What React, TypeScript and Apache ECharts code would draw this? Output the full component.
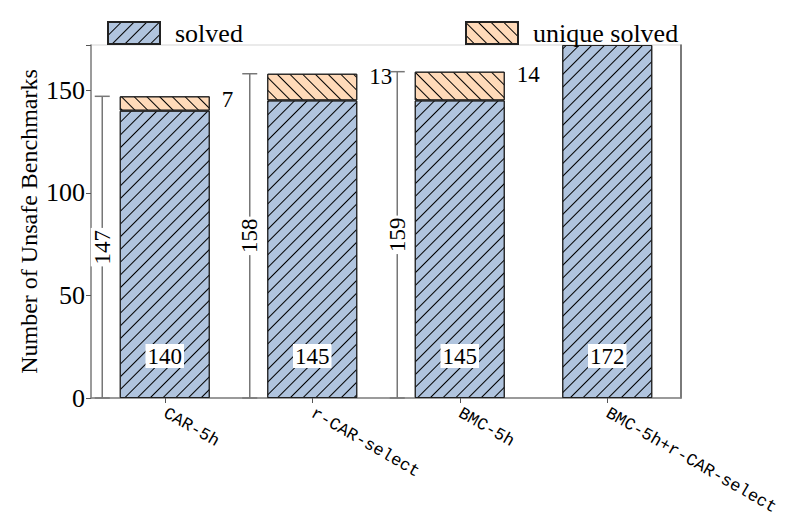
import React, { useEffect, useRef } from "react";
import * as echarts from "echarts";

const categories = ["CAR-5h", "r-CAR-select", "BMC-5h", "BMC-5h+r-CAR-select"];
const solved = [140, 145, 145, 172];
const uniqueSolved = [7, 13, 14, 0];
const bracketCount = 3;
const yTicks = [0, 50, 100, 150];
const yMax = 172;

const SERIF = "'Liberation Serif', 'Times New Roman', serif";
const MONO = "'Liberation Mono', 'Courier New', monospace";

export default function App() {
  const ref = useRef<HTMLDivElement>(null);
  useEffect(() => {
    if (!ref.current) return;
    const chart = echarts.init(ref.current, undefined, { renderer: "svg" });
    const totals = solved.map((v, i) => v + uniqueSolved[i]);
    const bracketData = totals.slice(0, bracketCount).map((t, i) => [i, t]);
    const solvedDecal = {
      symbol: "rect",
      symbolSize: 1,
      color: "#000",
      dashArrayX: [1, 0],
      dashArrayY: [1, 7.5],
      rotation: -Math.PI / 4,
    };
    const uniqueDecal = { ...solvedDecal, rotation: Math.PI / 4 };
    const legendText = { fontFamily: SERIF, fontSize: 26, color: "#000", padding: [0, 0, 0, 10] };
    const option: any = {
      animation: false,
      legend: [
        {
          data: ["solved"],
          left: 102,
          top: 15,
          icon: "rect",
          itemWidth: 52,
          itemHeight: 22,
          textStyle: legendText,
        },
        {
          data: ["unique solved"],
          left: 460,
          top: 15,
          icon: "rect",
          itemWidth: 52,
          itemHeight: 22,
          textStyle: legendText,
        },
      ],
      grid: {
        left: 91,
        right: 113,
        top: 45,
        bottom: 121,
        show: true,
        borderColor: "#e4e4e4",
        borderWidth: 1.5,
        containLabel: false,
        outerBoundsMode: "none",
      },
      xAxis: {
        type: "category",
        data: categories,
        boundaryGap: true,
        axisLine: { show: true, lineStyle: { color: "#808080", width: 1.5 } },
        axisTick: { show: true, alignWithLabel: true, length: 5, lineStyle: { color: "#555" } },
        axisLabel: { rotate: -30, fontFamily: MONO, fontSize: 17, color: "#000", margin: 14 },
        splitLine: { show: false },
      },
      yAxis: [
        {
          type: "value",
          min: 0,
          max: yMax,
          interval: 50,
          name: "Number of Unsafe Benchmarks",
          nameLocation: "middle",
          nameGap: 50,
          nameMoveOverlap: false,
          nameTextStyle: { fontFamily: SERIF, fontSize: 24, color: "#000" },
          axisLine: { show: true, lineStyle: { color: "#808080", width: 1.5 } },
          axisTick: { show: true, length: 5, lineStyle: { color: "#555" } },
          axisLabel: {
            fontFamily: SERIF,
            fontSize: 26,
            color: "#000",
            margin: 6,
            formatter: (v: number) => (yTicks.includes(v) ? String(v) : ""),
          },
          splitLine: { show: false },
        },
        {
          type: "value",
          position: "right",
          min: 0,
          max: yMax,
          interval: 50,
          axisLine: { show: true, lineStyle: { color: "#555", width: 1.5 } },
          axisTick: { show: false },
          axisLabel: { show: false },
          splitLine: { show: false },
        },
      ],
      series: [
        {
          name: "solved",
          type: "bar",
          stack: "all",
          barWidth: 90,
          data: solved,
          itemStyle: { color: "#b0c4de", borderColor: "#222", borderWidth: 1, decal: solvedDecal },
          label: {
            show: true,
            position: "insideBottom",
            distance: 30,
            fontFamily: SERIF,
            fontSize: 23,
            color: "#000",
            backgroundColor: "#fff",
            padding: [1, 2, 0, 2],
          },
        },
        {
          name: "unique solved",
          type: "bar",
          stack: "all",
          barWidth: 90,
          data: uniqueSolved.map((v) => (v === 0 ? null : v)),
          itemStyle: { color: "#ffdab9", borderColor: "#222", borderWidth: 1, decal: uniqueDecal },
          label: {
            show: true,
            position: ["100%", 0],
            offset: [12, 3],
            align: "left",
            verticalAlign: "middle",
            fontFamily: SERIF,
            fontSize: 23,
            color: "#000",
          },
        },
        {
          type: "custom",
          name: "brackets",
          data: bracketData,
          clip: false,
          z: 5,
          renderItem: (params: any, api: any) => {
            const idx = api.value(0);
            const total = api.value(1);
            const base = api.coord([idx, 0]);
            const top = api.coord([idx, total]);
            const x = base[0] - 62.5;
            const ls = { stroke: "#777", lineWidth: 1.5 };
            return {
              type: "group",
              children: [
                { type: "line", shape: { x1: x, y1: base[1], x2: x, y2: top[1] }, style: ls },
                { type: "line", shape: { x1: x - 7.5, y1: base[1], x2: x + 7.5, y2: base[1] }, style: ls },
                { type: "line", shape: { x1: x - 7.5, y1: top[1], x2: x + 7.5, y2: top[1] }, style: ls },
                {
                  type: "text",
                  x,
                  y: (base[1] + top[1]) / 2,
                  rotation: Math.PI / 2,
                  style: {
                    text: String(total),
                    fontFamily: SERIF,
                    fontSize: 23,
                    fill: "#000",
                    align: "center",
                    verticalAlign: "middle",
                    backgroundColor: "#fff",
                    padding: [0, 2],
                  },
                },
              ],
            };
          },
        },
      ],
    };
    chart.setOption(option);
    return () => chart.dispose();
  }, []);
  return (
    <div
      ref={ref}
      style={{ position: "fixed", left: 0, top: 0, width: 794, height: 519, background: "#fff" }}
    />
  );
}
